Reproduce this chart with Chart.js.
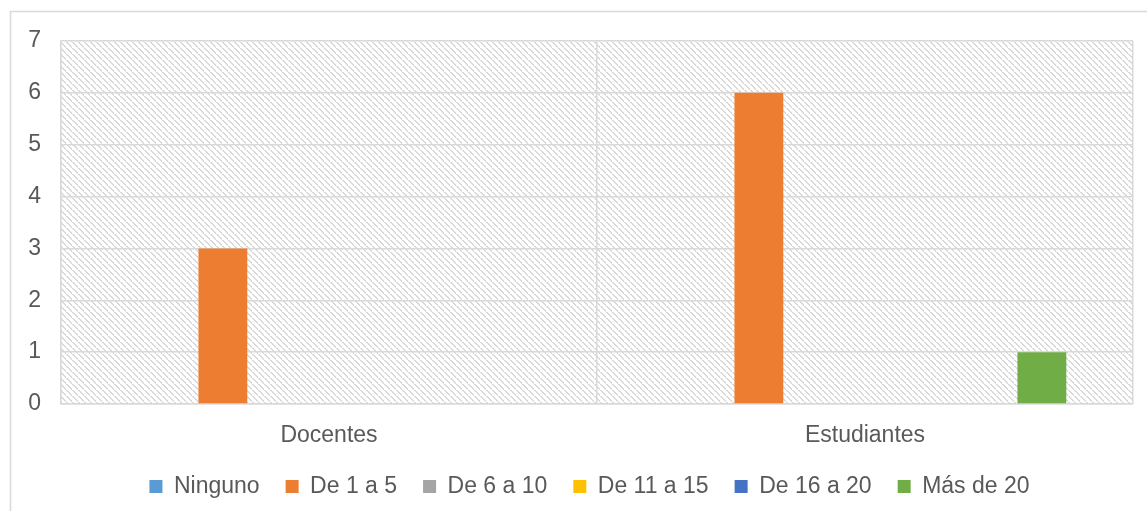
<!DOCTYPE html>
<html>
<head>
<meta charset="utf-8">
<script src="https://cdn.jsdelivr.net/npm/chart.js@4.4.0/dist/chart.umd.min.js"></script>
<style>
  html, body { margin: 0; padding: 0; background: #fff; }
  #wrap { position: relative; width: 1147px; height: 511px; }
</style>
</head>
<body>
<div id="wrap"><canvas id="myChart" width="1147" height="511"></canvas></div>
<script>
'use strict'
// categorias y series
const categories = ['Docentes', 'Estudiantes'];
const seriesNames = ['Ninguno', 'De 1 a 5', 'De 6 a 10', 'De 11 a 15', 'De 16 a 20', 'Más de 20'];
const ninguno = [0, 0];
const de1a5 = [3, 6];
const de6a10 = [0, 0];
const de11a15 = [0, 0];
const de16a20 = [0, 0];
const masDe20 = [0, 1];
const yTicks = [0, 1, 2, 3, 4, 5, 6, 7];

const colors = ['#5B9BD5', '#ED7D31', '#A5A5A5', '#FFC000', '#4472C4', '#70AD47'];
const seriesValues = [ninguno, de1a5, de6a10, de11a15, de16a20, masDe20];

const FONT = "'Liberation Sans', Arial, sans-serif";
Chart.defaults.font.family = FONT;
Chart.defaults.color = '#595959';

function makeHatch() {
    let c = document.createElement('canvas');
    c.width = 6;
    c.height = 6;
    let g = c.getContext('2d');
    g.fillStyle = '#ffffff';
    g.fillRect(0, 0, 6, 6);
    g.fillStyle = '#d9d9d9';
    for (let i = 0; i < 6; i++) {
        g.fillRect(i, i, 2, 1);
    }
    return g.createPattern(c, 'repeat');
}

const backgroundPlugin = {
    id: 'bgHatch',
    afterLayout(chart) {
        // la leyenda se centra sobre todo el marco, no sobre el área util
        chart.legend.left += 23;
        chart.legend.right += 23;
    },
    beforeDraw(chart) {
        let ctx = chart.ctx;
        let a = chart.chartArea;
        ctx.save();
        // marco exterior
        ctx.strokeStyle = '#d9d9d9';
        ctx.lineWidth = 1.5;
        ctx.strokeRect(10.5, 11.5, 1200, 600);
        ctx.fillStyle = makeHatch();
        ctx.fillRect(a.left, a.top, a.right - a.left, a.bottom - a.top);
        ctx.restore();
    }
};

let ctx = document.getElementById('myChart');
let myChart = new Chart(ctx, {
    type: 'bar',
    data: {
        labels: categories,
        datasets: seriesNames.map((name, i) => ({
            label: name,
            data: seriesValues[i],
            backgroundColor: colors[i],
            borderWidth: 0,
            categoryPercentage: 0.792,
            barPercentage: 0.69
        }))
    },
    options: {
        responsive: false,
        animation: false,
        layout: {
            padding: { left: 0, right: 14, top: 41, bottom: 3 }
        },
        plugins: {
            legend: {
                position: 'bottom',
                labels: {
                    boxWidth: 13,
                    boxHeight: 13,
                    padding: 26,
                    color: '#595959',
                    font: { size: 23 }
                }
            },
            tooltip: { enabled: false }
        },
        scales: {
            x: {
                grid: {
                    offset: true,
                    color: '#d9d9d9',
                    lineWidth: 1.5,
                    drawTicks: false
                },
                border: { color: '#d9d9d9', width: 1.5 },
                ticks: {
                    padding: 18,
                    color: '#595959',
                    font: { size: 23 }
                },
                afterFit(scale) { scale.height = 45; }
            },
            y: {
                min: 0,
                max: 7,
                afterBuildTicks(scale) {
                    scale.ticks = yTicks.map(v => ({ value: v }));
                },
                grid: {
                    color: '#d9d9d9',
                    lineWidth: 1.5,
                    drawTicks: false
                },
                border: { color: '#d9d9d9', width: 1.5 },
                ticks: {
                    padding: 20,
                    color: '#595959',
                    font: { size: 23 }
                },
                afterFit(scale) { scale.width = 61; }
            }
        }
    },
    plugins: [backgroundPlugin]
});
</script>
</body>
</html>
